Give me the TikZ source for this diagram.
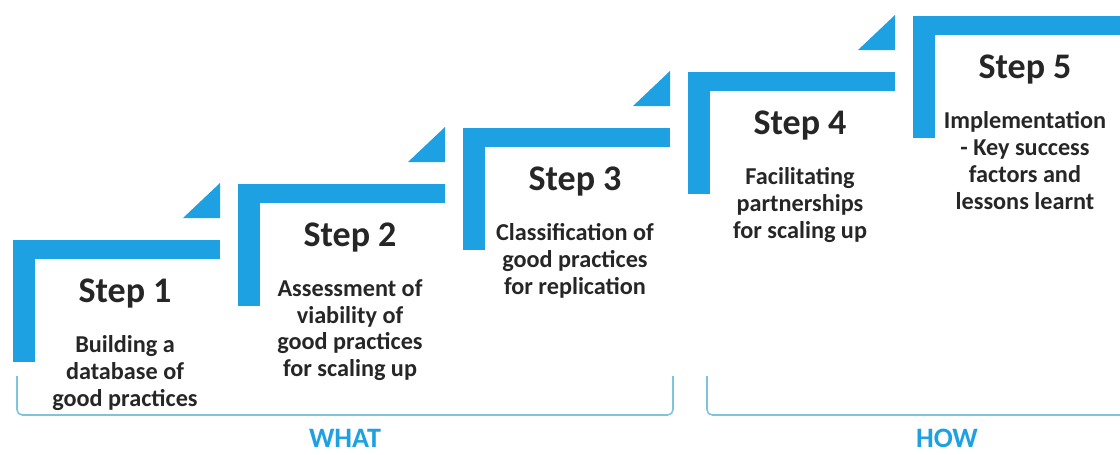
\documentclass[tikz,border=0pt]{standalone}
\usepackage{fontspec}
\setmainfont{Carlito}
\usetikzlibrary{positioning}
\definecolor{stepblue}{RGB}{29,161,226}
\definecolor{bracketblue}{RGB}{125,196,220}
\definecolor{steptext}{RGB}{38,38,38}

\tikzset{
    stepbar/.style={fill=stepblue, draw=none},
    steptitle/.style={font=\bfseries\fontsize{20.5}{24}\selectfont, text=steptext, inner sep=0pt},
    stepdesc/.style={font=\bfseries\fontsize{13.8}{15.3}\selectfont, text=steptext, align=center, inner sep=0pt, anchor=north},
    groupline/.style={draw=bracketblue, line width=0.9pt, rounded corners=3pt},
    grouplabel/.style={font=\bfseries\fontsize{16}{19}\selectfont, text=stepblue}
}

\begin{document}
\begin{tikzpicture}[x=0.02cm, y=-0.02cm]
    \useasboundingbox (0,0) rectangle (1120,454);
    \clip (0,0) rectangle (1120,454);

    % Stairs: one L-shaped bar per step, triangle tip above its end
    \foreach \i in {0,...,4} {
        \pgfmathsetmacro{\xo}{13+225*\i}
        \pgfmathsetmacro{\yo}{240-56*\i}
        \fill[stepbar] (\xo,\yo) rectangle ++(22,122);
        \fill[stepbar] (\xo,\yo) rectangle ++(207,19);
        \ifnum\i<4
            \fill[stepbar] (\xo+170,\yo-22) -- (\xo+207,\yo-57) -- (\xo+207,\yo-22) -- cycle;
        \fi
    }

    % Step titles and descriptions
    \foreach \i/\desc in {1/{Building a\\database of\\good practices},
                          2/{Assessment of\\viability of\\good practices\\for scaling up},
                          3/{Classification of\\good practices\\for replication},
                          4/{Facilitating\\partnerships\\for scaling up},
                          5/{Implementation\\- Key success\\factors and\\lessons learnt}} {
        \pgfmathsetmacro{\xc}{125+225*(\i-1)}
        \pgfmathsetmacro{\yc}{294-56*(\i-1)}
        \node[steptitle] (title\i) at (\xc,\yc) {Step \i};
        \node[stepdesc] (desc\i) at (\xc,\yc+41) {\desc};
    }

    % Groups
    \draw[groupline] (17,376) -- (17,415) -- (673,415) -- (673,376);
    \draw[groupline] (707,376) -- (707,415) -- (1130,415);
    \node[grouplabel] (what) at (345,438) {WHAT};
    \node[grouplabel] (how) at (947,438) {HOW};
\end{tikzpicture}
\end{document}
